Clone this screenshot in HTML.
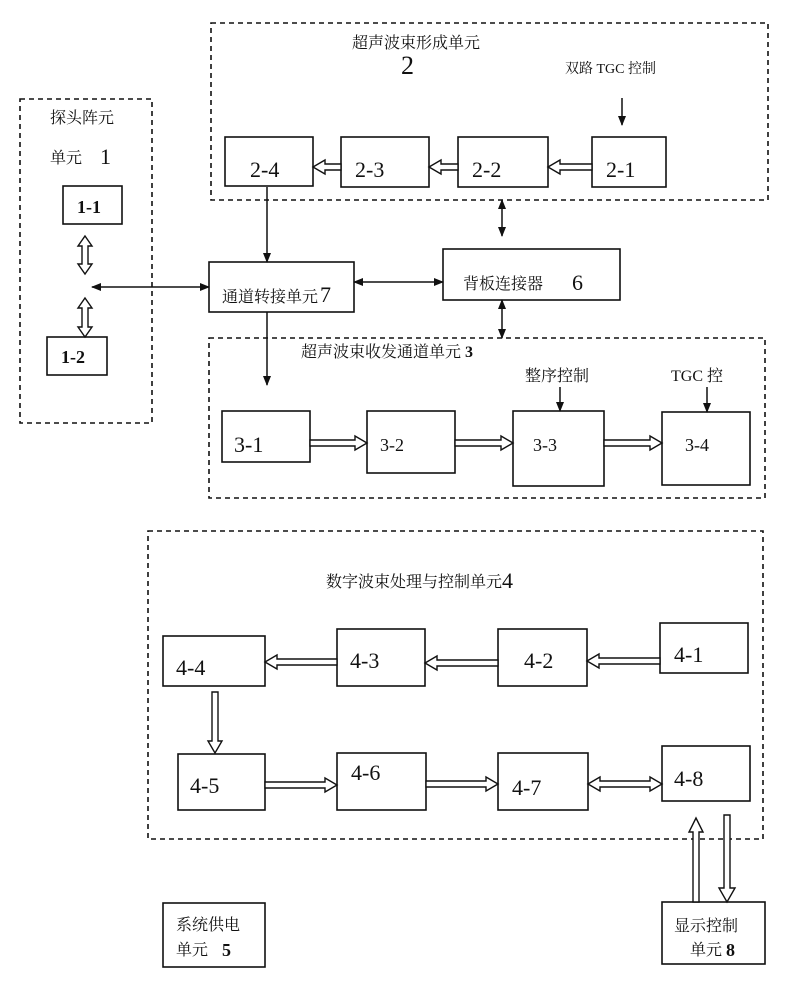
<!DOCTYPE html>
<html><head><meta charset="utf-8"><style>
html,body{margin:0;padding:0;background:#fff;}
svg{display:block;}
.cn{font-family:"Liberation Serif","Noto Serif CJK SC","Noto Sans CJK SC",serif;font-size:16px;fill:#111;}
.nm{font-family:"Liberation Serif",serif;font-size:22px;fill:#111;}
.sm{font-family:"Liberation Serif",serif;font-size:18px;fill:#111;}
</style></head><body>
<svg width="800" height="984" viewBox="0 0 800 984" xmlns="http://www.w3.org/2000/svg">
<defs>
<marker id="ah" markerWidth="10" markerHeight="10" refX="9" refY="5" orient="auto-start-reverse" markerUnits="userSpaceOnUse">
<path d="M0,1 L10,5 L0,9 Z" fill="#111"/></marker>
</defs>
<g fill="none" stroke="#111" stroke-width="1.6" stroke-dasharray="5,4">
<rect x="211" y="23" width="557" height="177"/>
<rect x="20" y="99" width="132" height="324"/>
<rect x="209" y="338" width="556" height="160"/>
<rect x="148" y="531" width="615" height="308"/>
</g>
<g fill="#fff" stroke="#111" stroke-width="1.6">
<rect x="225" y="137" width="88" height="49"/>
<rect x="341" y="137" width="88" height="50"/>
<rect x="458" y="137" width="90" height="50"/>
<rect x="592" y="137" width="74" height="50"/>
<rect x="63" y="186" width="59" height="38"/>
<rect x="47" y="337" width="60" height="38"/>
<rect x="209" y="262" width="145" height="50"/>
<rect x="443" y="249" width="177" height="51"/>
<rect x="222" y="411" width="88" height="51"/>
<rect x="367" y="411" width="88" height="62"/>
<rect x="513" y="411" width="91" height="75"/>
<rect x="662" y="412" width="88" height="73"/>
<rect x="163" y="636" width="102" height="50"/>
<rect x="337" y="629" width="88" height="57"/>
<rect x="498" y="629" width="89" height="57"/>
<rect x="660" y="623" width="88" height="50"/>
<rect x="178" y="754" width="87" height="56"/>
<rect x="337" y="753" width="89" height="57"/>
<rect x="498" y="753" width="90" height="57"/>
<rect x="662" y="746" width="88" height="55"/>
<rect x="163" y="903" width="102" height="64"/>
<rect x="662" y="902" width="103" height="62"/>
</g>
<!-- hollow arrows -->
<g fill="#fff" stroke="#111" stroke-width="1.4">
<polygon points="341,164 325,164 325,160 313,167 325,174 325,170 341,170"/>
<polygon points="458,164 441,164 441,160 429,167 441,174 441,170 458,170"/>
<polygon points="592,164 560,164 560,160 548,167 560,174 560,170 592,170"/>
<polygon points="85,236 92,246 88,246 88,264 92,264 85,274 78,264 82,264 82,246 78,246"/>
<polygon points="85,298 92,308 88,308 88,327 92,327 85,337 78,327 82,327 82,308 78,308"/>
<polygon points="310,440 355,440 355,436 367,443 355,450 355,446 310,446"/>
<polygon points="455,440 501,440 501,436 513,443 501,450 501,446 455,446"/>
<polygon points="604,440 650,440 650,436 662,443 650,450 650,446 604,446"/>
<polygon points="337,659 277,659 277,655 265,662 277,669 277,665 337,665"/>
<polygon points="498,660 437,660 437,656 425,663 437,670 437,666 498,666"/>
<polygon points="660,658 599,658 599,654 587,661 599,668 599,664 660,664"/>
<polygon points="212,692 218,692 218,741 222,741 215,753 208,741 212,741"/>
<polygon points="265,782 325,782 325,778 337,785 325,792 325,788 265,788"/>
<polygon points="426,781 486,781 486,777 498,784 486,791 486,787 426,787"/>
<polygon points="588,784 600,777 600,781 650,781 650,777 662,784 650,791 650,787 600,787 600,791"/>
<polygon points="696,818 703,832 699,832 699,902 693,902 693,832 689,832"/>
<polygon points="724,815 730,815 730,888 735,888 727,902 719,888 724,888"/>
</g>
<!-- thin arrows -->
<g stroke="#111" stroke-width="1.5" fill="none">
<line x1="622" y1="98" x2="622" y2="125" marker-end="url(#ah)"/>
<line x1="267" y1="187" x2="267" y2="262" marker-end="url(#ah)"/>
<line x1="267" y1="312" x2="267" y2="385" marker-end="url(#ah)"/>
<line x1="92" y1="287" x2="209" y2="287" marker-start="url(#ah)" marker-end="url(#ah)"/>
<line x1="354" y1="282" x2="443" y2="282" marker-start="url(#ah)" marker-end="url(#ah)"/>
<line x1="502" y1="200" x2="502" y2="236" marker-start="url(#ah)" marker-end="url(#ah)"/>
<line x1="502" y1="300" x2="502" y2="338" marker-start="url(#ah)" marker-end="url(#ah)"/>
<line x1="560" y1="387" x2="560" y2="411" marker-end="url(#ah)"/>
<line x1="707" y1="387" x2="707" y2="412" marker-end="url(#ah)"/>
</g>
<!-- text -->
<text class="cn" x="352" y="48">超声波束形成单元</text>
<text class="nm" x="401" y="74" style="font-size:26px">2</text>
<text class="cn" x="565" y="73" style="font-size:14px">双路 TGC 控制</text>
<text class="nm" x="250" y="177">2-4</text>
<text class="nm" x="355" y="177">2-3</text>
<text class="nm" x="472" y="177">2-2</text>
<text class="nm" x="606" y="177">2-1</text>
<text class="cn" x="50" y="123">探头阵元</text>
<text class="cn" x="50" y="163">单元</text>
<text class="nm" x="100" y="164">1</text>
<text class="sm" x="77" y="213" style="font-weight:bold">1-1</text>
<text class="sm" x="61" y="363" style="font-weight:bold">1-2</text>
<text class="cn" x="222" y="302">通道转接单元</text>
<text class="nm" x="320" y="302">7</text>
<text class="cn" x="463" y="289">背板连接器</text>
<text class="nm" x="572" y="290">6</text>
<text class="cn" x="301" y="357">超声波束收发通道单元 <tspan style="font-weight:bold">3</tspan></text>
<text class="cn" x="525" y="381">整序控制</text>
<text class="cn" x="671" y="381">TGC 控</text>
<text class="nm" x="234" y="452">3-1</text>
<text class="sm" x="380" y="451">3-2</text>
<text class="sm" x="533" y="451">3-3</text>
<text class="sm" x="685" y="451">3-4</text>
<text class="cn" x="326" y="587">数字波束处理与控制单元</text>
<text class="nm" x="502" y="588">4</text>
<text class="nm" x="176" y="675">4-4</text>
<text class="nm" x="350" y="668">4-3</text>
<text class="nm" x="524" y="668">4-2</text>
<text class="nm" x="674" y="662">4-1</text>
<text class="nm" x="190" y="793">4-5</text>
<text class="nm" x="351" y="780">4-6</text>
<text class="nm" x="512" y="795">4-7</text>
<text class="nm" x="674" y="786">4-8</text>
<text class="cn" x="176" y="930">系统供电</text>
<text class="cn" x="176" y="955">单元</text>
<text class="sm" x="222" y="956" style="font-weight:bold">5</text>
<text class="cn" x="674" y="931">显示控制</text>
<text class="cn" x="690" y="955">单元</text>
<text class="sm" x="726" y="956" style="font-weight:bold">8</text>
</svg>
</body></html>
